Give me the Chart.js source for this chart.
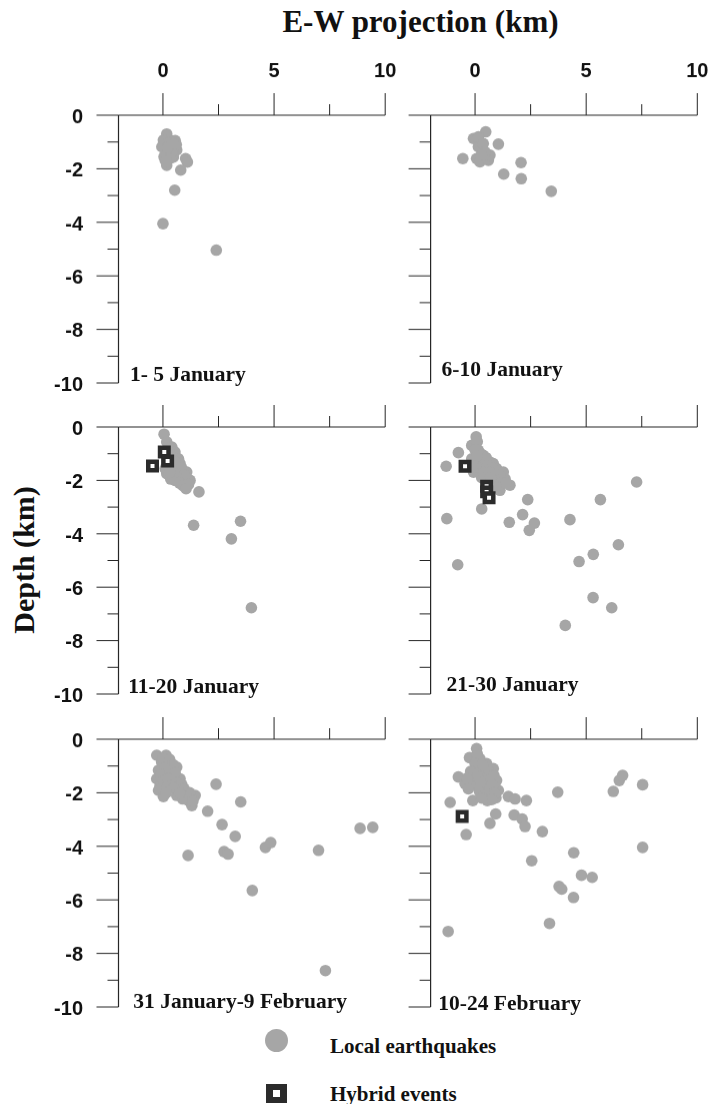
<!DOCTYPE html>
<html>
<head>
<meta charset="utf-8">
<script src="https://cdn.jsdelivr.net/npm/chart.js@4.4.1/dist/chart.umd.min.js"></script>
<style>
  body { margin: 0; background: #fff; width: 711px; height: 1104px; position: relative; overflow: hidden; }
  canvas { position: absolute; }
  .txt { position: absolute; font-family: "Liberation Serif", "Times New Roman", serif; font-weight: bold; color: #111; white-space: nowrap; }
</style>
</head>
<body>

<div class="txt" style="left:220px; top:6px; width:401px; text-align:center; font-size:31px; line-height:31px;">E-W projection (km)</div>
<div class="txt" style="left:-76.5px; top:545px; width:200px; height:30px; text-align:center; font-size:30px; line-height:30px; transform:rotate(-90deg);">Depth (km)</div>

<div style="position:absolute; left:265px; top:1029px; width:23px; height:23px; border-radius:50%; background:#a6a6a6;"></div>
<div class="txt" style="left:330px; top:1036px; font-size:21px; line-height:21px;">Local earthquakes</div>
<div style="position:absolute; left:266px; top:1084px; width:21px; height:19px; box-sizing:border-box; border:6px solid #2b2b2b; border-left-width:7px; border-right-width:7px; background:#fff;"></div>
<div class="txt" style="left:330px; top:1084px; font-size:21px; line-height:21px;">Hybrid events</div>

<script>
// =====================================
// DATA  (x = E-W km, y = depth km)
// =====================================

const periods = [
    "1- 5 January",
    "6-10 January",
    "11-20 January",
    "21-30 January",
    "31 January-9 February",
    "10-24 February"
];

const xTicks = [0, 5, 10];
const xMinorTicks = [2.5, 7.5];
const yTicks = [0, -2, -4, -6, -8, -10];
const yMinorTicks = [-1, -3, -5, -7, -9];

// 1-5 January
const localX1 = [0.17, 0.02, 0.35, 0.55, -0.05, 0.32, 0.62, 0.17, 0.45, 0.1, 0.17, 0.47, 0.3, 0.05, 0.6, 0.25, 0.4, 0.2, 0.35, 0.15, 0.5, 1.02, 1.1, 0.8, 0.53, 0.0, 2.4];
const localY1 = [-0.7, -0.93, -0.95, -0.95, -1.18, -1.12, -1.3, -1.43, -1.25, -1.68, -1.87, -1.56, -1.45, -1.55, -1.1, -1.0, -1.35, -1.2, -1.6, -1.7, -1.05, -1.62, -1.75, -2.05, -2.8, -4.05, -5.04];
const hybridX1 = [];
const hybridY1 = [];

// 6-10 January
const localX2 = [0.48, -0.07, 0.15, 1.05, -0.55, 0.15, 0.37, 0.07, 0.22, 0.6, 0.67, 0.45, 0.3, 2.07, 1.29, 2.08, 3.43];
const localY2 = [-0.62, -0.87, -0.81, -1.08, -1.62, -1.18, -1.06, -1.62, -1.74, -1.68, -1.49, -1.37, -1.45, -1.77, -2.2, -2.37, -2.84];
const hybridX2 = [];
const hybridY2 = [];

// 11-20 January
const localX3 = [0.05, 0.17, 0.4, 0.54, 0.7, 0.77, 1.07, 1.22, 0.92, 0.54, 0.17, 0.1, 0.4, 0.77, 0.6, 0.3, 0.25, 0.35, 0.55, 0.25, 0.85, 0.95, 0.6, 0.35, 0.75, 1.15, 0.9, 0.5, 0.3, 1.04, 1.62, 1.38, 3.49, 3.08, 3.98];
const localY3 = [-0.27, -0.56, -0.75, -0.94, -1.19, -1.37, -1.69, -2.0, -2.0, -2.0, -1.75, -1.56, -1.62, -1.81, -1.5, -1.3, -0.9, -1.1, -1.3, -1.5, -1.55, -1.8, -1.85, -1.95, -2.1, -2.15, -2.2, -1.7, -1.7, -2.31, -2.43, -3.68, -3.53, -4.19, -6.77];
const hybridX3 = [0.06, 0.21, -0.47];
const hybridY3 = [-0.94, -1.27, -1.46];

// 21-30 January
const localX4 = [0.05, -0.15, -0.75, -1.3, 0.15, 0.37, 0.67, 0.82, 0.97, 1.27, 1.35, 1.57, 1.12, -0.07, 0.22, 0.52, 0.82, 0.07, -0.15, 0.4, 0.6, 0.3, 0.1, 0.0, 0.25, 0.5, 0.1, 0.35, 0.55, 0.8, 0.05, 0.4, 0.65, 1.1, 1.0, 1.2, 1.4, 0.95, 0.7, -0.1, 7.27, 2.37, 5.64, 0.3, -1.27, 2.14, 1.54, 2.67, 2.44, 4.27, 6.45, 5.32, 4.68, -0.78, 5.31, 6.15, 4.06];
const localY4 = [-0.37, -0.69, -0.96, -1.47, -0.87, -1.06, -1.31, -1.37, -1.56, -1.69, -1.94, -2.18, -2.37, -1.69, -1.56, -1.81, -2.0, -1.31, -1.19, -1.25, -1.6, -1.9, -0.55, -0.85, -1.0, -1.15, -1.1, -1.45, -1.45, -1.55, -1.5, -1.7, -1.7, -1.8, -2.0, -2.1, -2.1, -2.25, -1.9, -1.45, -2.06, -2.72, -2.72, -3.07, -3.43, -3.28, -3.57, -3.6, -3.87, -3.47, -4.41, -4.77, -5.04, -5.16, -6.39, -6.77, -7.43];
const hybridX4 = [-0.45, 0.52, 0.52, 0.63];
const hybridY4 = [-1.47, -2.22, -2.43, -2.65];

// 31 January-9 February
const localX5 = [-0.28, 0.14, -0.06, 0.32, 0.62, -0.2, 0.17, -0.28, 0.4, 0.77, -0.13, -0.2, 0.02, 0.4, 0.7, 1.0, 1.45, 1.15, 1.3, 0.62, 0.89, 0.2, 0.5, 0.0, 0.3, 0.45, 0.1, -0.1, 0.3, 0.55, 0.05, 0.25, 0.6, -0.05, 0.2, 0.5, 0.85, 0.95, 1.2, 1.05, 1.35, 0.75, 0.15, 2.39, 3.5, 2.01, 2.66, 3.25, 1.13, 2.75, 2.93, 4.61, 4.85, 7.0, 8.87, 9.44, 4.02, 7.31];
const localY5 = [-0.6, -0.6, -0.85, -0.91, -1.04, -1.16, -1.23, -1.48, -1.41, -1.48, -1.73, -1.91, -2.14, -1.79, -1.85, -1.98, -2.1, -2.29, -2.48, -2.1, -2.23, -1.0, -1.6, -0.7, -0.75, -0.95, -1.05, -1.3, -1.15, -1.25, -1.55, -1.45, -1.6, -1.85, -1.75, -1.8, -1.7, -1.85, -2.0, -2.15, -2.3, -2.0, -2.0, -1.68, -2.34, -2.69, -3.19, -3.63, -4.34, -4.2, -4.29, -4.04, -3.86, -4.15, -3.33, -3.29, -5.65, -8.64];
const hybridX5 = [];
const hybridY5 = [];

// 10-24 February
const localX6 = [0.07, -0.25, 0.22, 0.52, 0.82, -0.75, -0.45, -0.07, 0.15, 0.37, 0.67, 0.97, -0.22, 0.07, 0.37, 0.67, 1.05, 0.94, 0.55, -0.1, 0.1, 0.0, 0.35, 0.65, -0.2, 0.1, 0.5, 0.85, -0.35, 0.25, 0.8, 0.2, 0.45, 0.9, 0.75, 0.3, -0.3, -1.12, 1.5, 1.8, 2.31, 3.72, 6.22, 6.49, 6.64, 7.54, 0.93, 0.67, -0.4, 1.76, 2.12, 2.25, 3.03, 4.44, 2.55, 7.54, 4.79, 5.27, 3.78, 3.9, 4.43, 3.35, -1.21];
const localY6 = [-0.35, -0.69, -0.73, -0.91, -1.1, -1.41, -1.66, -1.29, -1.1, -1.35, -1.48, -1.54, -1.54, -1.73, -1.79, -1.91, -1.91, -2.19, -2.29, -2.29, -0.55, -0.9, -0.95, -1.2, -1.2, -1.4, -1.55, -1.35, -1.45, -1.6, -1.7, -1.95, -2.05, -2.0, -2.25, -2.2, -1.85, -2.36, -2.14, -2.23, -2.29, -1.98, -1.95, -1.54, -1.35, -1.7, -2.79, -3.14, -3.56, -2.83, -2.98, -3.26, -3.45, -4.24, -4.54, -4.04, -5.08, -5.16, -5.5, -5.6, -5.91, -6.88, -7.18];
const hybridX6 = [-0.58];
const hybridY6 = [-2.88];

const localX = [localX1, localX2, localX3, localX4, localX5, localX6];
const localY = [localY1, localY2, localY3, localY4, localY5, localY6];
const hybridX = [hybridX1, hybridX2, hybridX3, hybridX4, hybridX5, hybridX6];
const hybridY = [hybridY1, hybridY2, hybridY3, hybridY4, hybridY5, hybridY6];


// =====================================
// LAYOUT
// =====================================

const plotLeft = [118.5, 430.6];
const plotTop = [115, 426.7, 739];
const plotW = 266.7;
const plotH = 267.5;
const canvasLeft = [40, 400];
const canvasWidth = [360, 311];

const labelDx = [11.5, 11, 9.8, 16, 14.8, 7.7];
const labelDy = [-1.6, -6.6, -1.5, -3.2, 1, 3];

const axisColor = "#262626";
const grey = "#a6a6a6";


// =====================================
// AXES PLUGIN
// =====================================

const panelAxes = {

    id: "panelAxes",

    beforeDatasetsDraw(chart, args, opts){

        const ctx = chart.ctx;
        const xs = chart.scales.x;
        const ys = chart.scales.y;

        const L = xs.getPixelForValue(-2);
        const R = xs.getPixelForValue(10);
        const T = ys.getPixelForValue(0);
        const B = ys.getPixelForValue(-10);

        ctx.save();

        ctx.strokeStyle = axisColor;
        ctx.lineWidth = 1.2;

        ctx.beginPath();
        ctx.moveTo(L, T); ctx.lineTo(R, T);
        ctx.moveTo(L, T); ctx.lineTo(L, B);
        ctx.stroke();

        ctx.lineWidth = 1;
        ctx.beginPath();

        xTicks.forEach(v => {
            const x = xs.getPixelForValue(v);
            ctx.moveTo(x, T); ctx.lineTo(x, T - 22);
        });

        xMinorTicks.forEach(v => {
            const x = xs.getPixelForValue(v);
            ctx.moveTo(x, T); ctx.lineTo(x, T - 11);
        });

        yTicks.forEach(v => {
            const y = ys.getPixelForValue(v);
            ctx.moveTo(L, y); ctx.lineTo(L - 22, y);
        });

        yMinorTicks.forEach(v => {
            const y = ys.getPixelForValue(v);
            ctx.moveTo(L, y); ctx.lineTo(L - 11, y);
        });

        ctx.stroke();

        ctx.fillStyle = "#111";
        ctx.font = "bold 20px 'Liberation Sans', Arial, sans-serif";
        ctx.textBaseline = "alphabetic";

        if(opts.row === 0){
            ctx.textAlign = "center";
            xTicks.forEach(v => {
                ctx.fillText(String(v), xs.getPixelForValue(v), T - 37.8);
            });
        }

        if(opts.col === 0){
            ctx.textAlign = "right";
            yTicks.forEach(v => {
                ctx.fillText(String(v), L - 35.5, ys.getPixelForValue(v) + 7.7);
            });
        }

        ctx.font = "bold 21.5px 'Liberation Serif', 'Times New Roman', serif";
        ctx.textAlign = "left";
        ctx.fillText(opts.label, L + opts.dx, B + opts.dy);

        ctx.restore();
    }
};


// =====================================
// PANELS
// =====================================

const charts = [];

for(let i = 0; i < 6; i++){

    const col = i % 2;
    const row = Math.floor(i / 2);

    const cx = canvasLeft[col];
    const cw = canvasWidth[col];
    const cy = plotTop[row] - 60;
    const ch = plotH + 70;

    const canvas = document.createElement("canvas");
    canvas.width = cw;
    canvas.height = ch;
    canvas.style.left = cx + "px";
    canvas.style.top = cy + "px";
    canvas.style.width = cw + "px";
    canvas.style.height = ch + "px";
    document.body.appendChild(canvas);

    const localPts = localX[i].map((x, k) => ({ x: x, y: localY[i][k] }));
    const hybridPts = hybridX[i].map((x, k) => ({ x: x, y: hybridY[i][k] }));

    charts.push(new Chart(canvas, {

        type: "scatter",

        data: {
            datasets: [
                {
                    label: "Hybrid events",
                    data: hybridPts,
                    pointStyle: "rect",
                    pointRadius: 6,
                    borderWidth: 4.5,
                    borderColor: "#2b2b2b",
                    backgroundColor: "#ffffff",
                    clip: false
                },
                {
                    label: "Local earthquakes",
                    data: localPts,
                    pointStyle: "circle",
                    pointRadius: 5.8,
                    borderWidth: 0,
                    backgroundColor: grey,
                    clip: false
                }
            ]
        },

        options: {
            responsive: false,
            animation: false,
            devicePixelRatio: 1,
            layout: {
                autoPadding: false,
                padding: {
                    left: plotLeft[col] - cx,
                    right: cx + cw - (plotLeft[col] + plotW),
                    top: 60,
                    bottom: 10
                }
            },
            scales: {
                x: {
                    type: "linear", min: -2, max: 10, display: false,
                    grid: { display: false }, ticks: { display: false }, border: { display: false }
                },
                y: {
                    type: "linear", min: -10, max: 0, display: false,
                    grid: { display: false }, ticks: { display: false }, border: { display: false }
                }
            },
            plugins: {
                legend: { display: false },
                tooltip: { enabled: false },
                panelAxes: {
                    row: row,
                    col: col,
                    label: periods[i],
                    dx: labelDx[i],
                    dy: labelDy[i]
                }
            }
        },

        plugins: [panelAxes]
    }));
}
</script>
</body>
</html>
